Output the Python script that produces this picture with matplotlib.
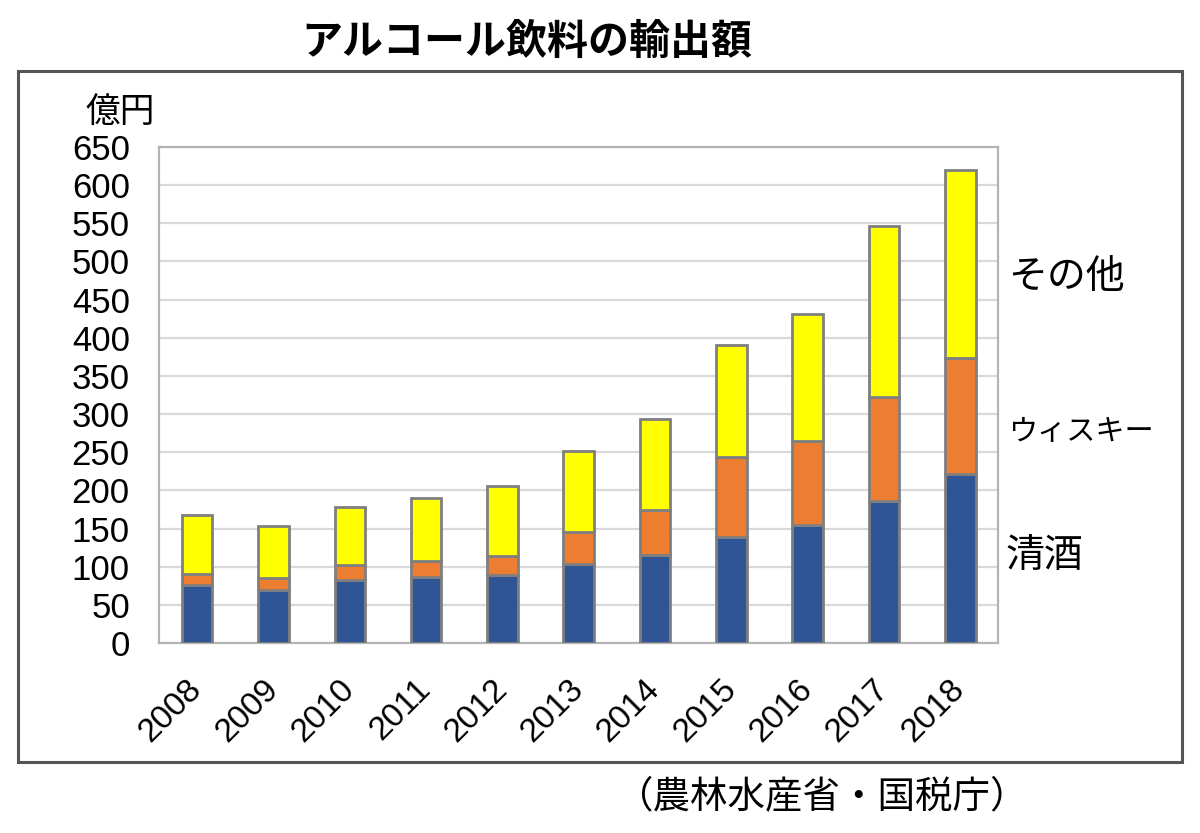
"""アルコール飲料の輸出額（積み上げ棒グラフ）を再現する。"""

import matplotlib.pyplot as plt
import numpy as np
from matplotlib.patches import Rectangle

YEARS = ["2008", "2009", "2010", "2011", "2012", "2013",
         "2014", "2015", "2016", "2017", "2018"]
SAKE = [76, 70, 83, 87, 89, 104, 115, 139, 155, 186, 222]
WHISKY = [14, 15, 19, 21, 25, 41, 59, 105, 110, 137, 151]
OTHER = [78, 68, 76, 82, 92, 107, 120, 146, 166, 224, 247]
Y_TICKS = list(range(0, 651, 50))

BLUE = "#2f5597"
ORANGE = "#ed7d31"
YELLOW = "#ffff00"
EDGE = "#7f7f7f"

plt.rcParams["font.family"] = ["Liberation Sans", "Noto Sans CJK JP", "DejaVu Sans"]
JP = ["Noto Sans CJK JP", "DejaVu Sans"]


def main() -> None:
    fig = plt.figure(figsize=(12, 8.33), dpi=100)
    fig.patch.set_facecolor("white")

    # 外枠
    fig.patches.append(Rectangle((0.015, 0.085), 0.970, 0.830, transform=fig.transFigure,
                                 fill=False, edgecolor="#555555", linewidth=2.2))

    ax = fig.add_axes([0.1325, 0.228, 0.6995, 0.5955])
    x = np.arange(len(YEARS))
    sake = np.array(SAKE)
    whisky = np.array(WHISKY)
    other = np.array(OTHER)
    width = 0.4
    kw = dict(width=width, edgecolor=EDGE, linewidth=2.0, zorder=3)
    ax.bar(x, sake, color=BLUE, **kw)
    ax.bar(x, whisky, bottom=sake, color=ORANGE, **kw)
    ax.bar(x, other, bottom=sake + whisky, color=YELLOW, **kw)

    ax.set_xlim(-0.5, len(YEARS) - 0.5)
    ax.set_ylim(0, 650)
    ax.set_yticks(Y_TICKS)
    ax.set_yticklabels([str(v) for v in Y_TICKS], fontsize=25)
    ax.set_xticks(x)
    ax.set_xticklabels(YEARS, fontsize=24, rotation=45, ha="right",
                       rotation_mode="anchor", va="center")
    ax.tick_params(axis="y", length=0, pad=21)
    ax.tick_params(axis="x", length=0, pad=30)
    ax.yaxis.grid(True, color="#d9d9d9", linewidth=1.6, zorder=0)
    ax.set_axisbelow(True)
    for spine in ax.spines.values():
        spine.set_color("#b4b4b4")
        spine.set_linewidth(1.6)

    fig.text(0.439, 0.950, "アルコール飲料の輸出額", family=JP, fontsize=29.5,
             weight="bold", ha="center", va="center")
    fig.text(0.100, 0.864, "億円", family=JP, fontsize=25, ha="center", va="center")
    fig.text(0.840, 0.668, "その他", family=JP, fontsize=28, ha="left", va="center")
    fig.text(0.840, 0.481, "ウィスキー", family=JP, fontsize=21, ha="left", va="center")
    fig.text(0.838, 0.333, "清酒", family=JP, fontsize=28, ha="left", va="center")
    fig.text(0.685, 0.043, "（農林水産省・国税庁）", family=JP, fontsize=27,
             ha="center", va="center")

    fig.savefig("out.png", dpi=100, facecolor="white")
    plt.close(fig)


if __name__ == "__main__":
    main()
